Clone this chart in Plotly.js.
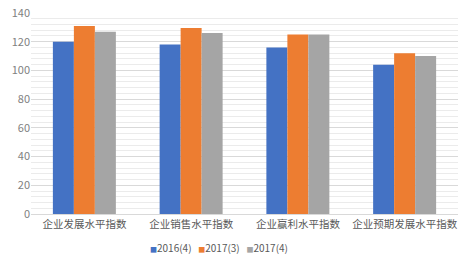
<!DOCTYPE html>
<html><head><meta charset="utf-8">
<script src="https://cdn.plot.ly/plotly-3.0.1.min.js"></script>
<style>html,body{margin:0;padding:0;background:#fff}#chart{width:474px;height:260px}</style>
</head><body><div id="chart"></div>
<script>
var categories = ["企业发展水平指数", "企业销售水平指数", "企业赢利水平指数", "企业预期发展水平指数"];
var seriesNames = ["2016(4)", "2017(3)", "2017(4)"];
var s2016q4 = [120, 118, 116, 104];
var s2017q3 = [131, 129.5, 125, 112];
var s2017q4 = [127, 126, 125, 110];
var colors = ["#4472C4", "#ED7D31", "#A5A5A5"];
var values = [s2016q4, s2017q3, s2017q4];
var font = "'Noto Sans CJK SC', 'Noto Sans', sans-serif";
var traces = values.map(function(v, i){
  return {type: "bar", x: categories, y: v, name: seriesNames[i],
    marker: {color: colors[i]}, hoverinfo: "none", showlegend: false};
});
var legendText = seriesNames.map(function(n, i){
  return "<span style='color:" + colors[i] + ";font-size:7px'>■</span>" + n;
}).join("&nbsp;&nbsp;&nbsp;");
var layout = {
  width: 474, height: 260,
  margin: {l: 31, r: 16, t: 13, b: 46},
  paper_bgcolor: "#fff", plot_bgcolor: "#fff",
  barmode: "group", bargap: 0.41, bargroupgap: 0,
  font: {family: font, color: "#595959", size: 11},
  xaxis: {tickfont: {size: 10.5, color: "#595959"}, showline: true, linecolor: "#d9d9d9",
    ticks: "", tickangle: 0, automargin: false, fixedrange: true},
  yaxis: {range: [0, 140], dtick: 20, showgrid: true, gridcolor: "#d9d9d9", gridwidth: 1,
    zeroline: false, ticks: "", tickfont: {size: 11, color: "#7f7f7f"},
    minor: {dtick: 4, showgrid: true, gridcolor: "#ebebeb", gridwidth: 1},
    automargin: false, fixedrange: true},
  showlegend: false,
  annotations: [{text: legendText, xref: "paper", yref: "paper",
    x: (219 - 31) / 427, y: -(247 - 214) / 201, xanchor: "center", yanchor: "middle",
    showarrow: false, font: {size: 10, color: "#595959"}}]
};
Plotly.newPlot("chart", traces, layout, {staticPlot: true, displayModeBar: false});
</script></body></html>
